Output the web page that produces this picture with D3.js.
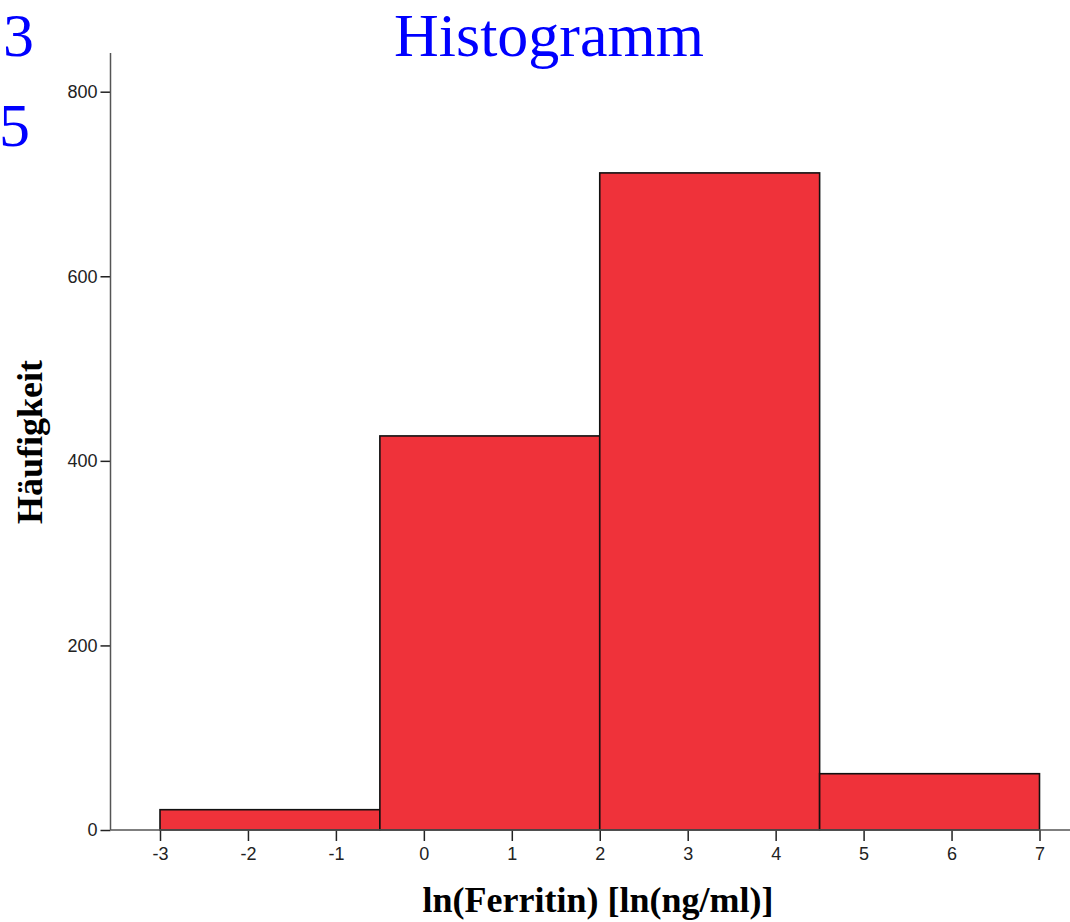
<!DOCTYPE html>
<html>
<head>
<meta charset="utf-8">
<script src="https://cdn.jsdelivr.net/npm/d3@7/dist/d3.min.js"></script>
<style>
  html, body { margin: 0; padding: 0; background: #fff; }
  svg { display: block; }
</style>
</head>
<body>
<svg id="chart" width="1070" height="922"></svg>
<script>
// Histogram of ln(Ferritin): bin edges and counts per bin
const binStarts = [-3, -0.5, 2, 4.5];
const binEnds   = [-0.5, 2, 4.5, 7];
const counts    = [22, 427, 712, 61];

const xTicks = [-3, -2, -1, 0, 1, 2, 3, 4, 5, 6, 7];
const yTicks = [0, 200, 400, 600, 800];

const title = "Histogramm";
const xTitle = "ln(Ferritin) [ln(ng/ml)]";
const yTitle = "Häufigkeit";
const cornerDigits = ["3", "5"];

const svg = d3.select("#chart");

const x = d3.scaleLinear().domain([-3, 7]).range([160, 1039.5]);
const y = d3.scaleLinear().domain([0, 800]).range([830, 91.7]);

const bins = binStarts.map((s, i) => ({ x0: s, x1: binEnds[i], n: counts[i] }));

// bars
svg.append("g")
  .selectAll("rect")
  .data(bins)
  .join("rect")
  .attr("x", d => x(d.x0))
  .attr("y", d => y(d.n))
  .attr("width", d => x(d.x1) - x(d.x0))
  .attr("height", d => y(0) - y(d.n))
  .attr("fill", "#ef323a")
  .attr("stroke", "#111")
  .attr("stroke-width", 1.6);

// plain hyphen for negatives
const fmt = d => String(d);

// y axis
const yAxis = svg.append("g")
  .attr("transform", "translate(110.5,0)")
  .call(d3.axisLeft(y).tickValues(yTicks).tickSize(10).tickPadding(3).tickFormat(fmt));
yAxis.select(".domain").remove();
yAxis.append("line")
  .attr("x1", 0).attr("x2", 0)
  .attr("y1", 53).attr("y2", y(0))
  .attr("stroke", "#555").attr("stroke-width", 1.5);

// x axis
const xAxis = svg.append("g")
  .attr("transform", `translate(0,${y(0)})`)
  .call(d3.axisBottom(x).tickValues(xTicks).tickSize(11).tickPadding(6).tickFormat(fmt));
xAxis.select(".domain").remove();
xAxis.append("line")
  .attr("x1", 110.5).attr("x2", 1070)
  .attr("y1", 0).attr("y2", 0)
  .attr("stroke", "#555").attr("stroke-width", 1.5);

svg.selectAll(".tick line").attr("stroke", "#222").attr("stroke-width", 1.5);
svg.selectAll(".tick text")
  .attr("font-family", "Liberation Sans, Arial, sans-serif")
  .attr("font-size", 18)
  .attr("fill", "#222");

// title
svg.append("text")
  .attr("x", 549).attr("y", 55.5)
  .attr("text-anchor", "middle")
  .attr("font-family", "Liberation Serif, Times New Roman, serif")
  .attr("font-size", 62)
  .attr("fill", "#0000ff")
  .text(title);

// stray digits at top-left
svg.selectAll(".corner")
  .data(cornerDigits)
  .join("text")
  .attr("class", "corner")
  .attr("x", (d, i) => i === 0 ? 3 : -1)
  .attr("y", (d, i) => i === 0 ? 55.5 : 146)
  .attr("font-family", "Liberation Serif, Times New Roman, serif")
  .attr("font-size", 62)
  .attr("fill", "#0000ff")
  .text(d => d);

// axis titles
svg.append("text")
  .attr("x", 598).attr("y", 912)
  .attr("text-anchor", "middle")
  .attr("font-family", "Liberation Serif, Times New Roman, serif")
  .attr("font-weight", "bold")
  .attr("font-size", 36)
  .attr("fill", "#000")
  .text(xTitle);

svg.append("text")
  .attr("transform", "translate(42,442) rotate(-90)")
  .attr("text-anchor", "middle")
  .attr("font-family", "Liberation Serif, Times New Roman, serif")
  .attr("font-weight", "bold")
  .attr("font-size", 36)
  .attr("fill", "#000")
  .text(yTitle);
</script>
</body>
</html>
